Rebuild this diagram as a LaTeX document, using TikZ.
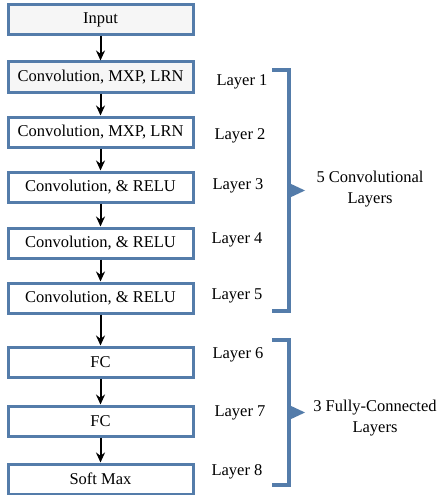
\documentclass[tikz,border=0pt]{standalone}
\usepackage{fontspec}
\setmainfont{Liberation Serif}
\usetikzlibrary{arrows.meta}
\definecolor{boxblue}{RGB}{84,124,170}
\definecolor{boxfill}{RGB}{246,246,246}
\begin{document}
\begin{tikzpicture}[x=1pt,y=-1pt,
    layerbox/.style={draw=boxblue,line width=3pt,minimum width=185pt,minimum height=30pt,inner sep=0pt,font=\fontsize{16.5}{20}\selectfont},
    flow/.style={line width=2pt,-{Stealth[length=10pt,width=9pt]}},
    bracket/.style={draw=boxblue,line width=3.5pt},
    layerlabel/.style={font=\fontsize{16.5}{20}\selectfont},
    grouplabel/.style={align=center,font=\fontsize{16.5}{21}\selectfont}]
  \useasboundingbox (0,0) rectangle (440,495);
  % network stack
  \node[layerbox,fill=boxfill] (in) at (100.5,20) {Input};
  \node[layerbox,fill=boxfill] (c1) at (100.5,77) {Convolution, MXP, LRN};
  \node[layerbox] (c2) at (100.5,132) {Convolution, MXP, LRN};
  \node[layerbox] (c3) at (100.5,187) {Convolution, \& RELU};
  \node[layerbox] (c4) at (100.5,243) {Convolution, \& RELU};
  \node[layerbox] (c5) at (100.5,298) {Convolution, \& RELU};
  \node[layerbox] (f6) at (100.5,362) {FC};
  \node[layerbox] (f7) at (100.5,421) {FC};
  \node[layerbox] (sm) at (100.5,479) {Soft Max};
  \foreach \a/\b in {in/c1,c1/c2,c2/c3,c3/c4,c4/c5,c5/f6,f6/f7,f7/sm}
    \draw[flow] (\a) -- (\b);
  % layer labels
  \node[layerlabel] (l1) at (242,82) {Layer 1};
  \node[layerlabel] (l2) at (240,136) {Layer 2};
  \node[layerlabel] (l3) at (238,186) {Layer 3};
  \node[layerlabel] (l4) at (237,240) {Layer 4};
  \node[layerlabel] (l5) at (237,296) {Layer 5};
  \node[layerlabel] (l6) at (238,355) {Layer 6};
  \node[layerlabel] (l7) at (240,413) {Layer 7};
  \node[layerlabel] (l8) at (237,472) {Layer 8};
  % brackets
  \coordinate (b1t) at (272,70);
  \coordinate (b1b) at (272,311);
  \draw[bracket] (b1t) -- (289,70) -- (289,311) -- (b1b);
  \fill[boxblue] (289,183) -- (305,190.5) -- (289,198) -- cycle;
  \node[grouplabel] (conv) at (370,189) {5 Convolutional\\Layers};
  \coordinate (b2t) at (272,340);
  \coordinate (b2b) at (272,485);
  \draw[bracket] (b2t) -- (289,340) -- (289,485) -- (b2b);
  \fill[boxblue] (289,405) -- (305,412.5) -- (289,420) -- cycle;
  \node[grouplabel] (fc) at (375,418) {3 Fully-Connected\\Layers};
\end{tikzpicture}
\end{document}
